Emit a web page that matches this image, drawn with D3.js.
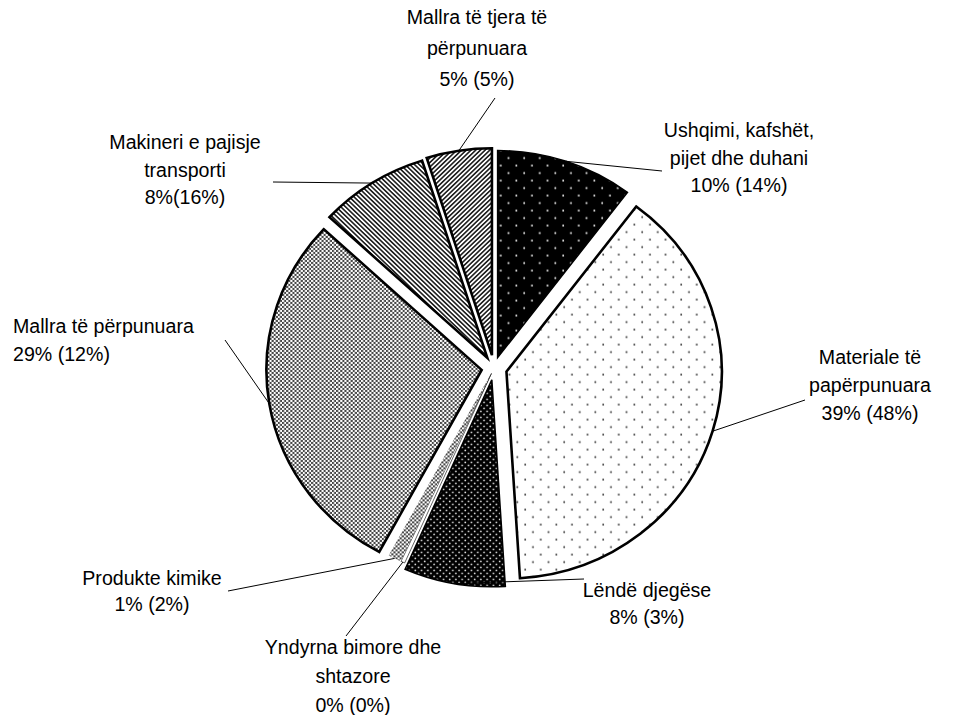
<!DOCTYPE html>
<html>
<head>
<meta charset="utf-8">
<script src="https://cdn.jsdelivr.net/npm/d3@7"></script>
<style>
  body { margin: 0; background: #fff; }
  svg { display: block; }
  text { font-family: "Liberation Sans", Arial, sans-serif; font-size: 19.6px; fill: #000; }
</style>
</head>
<body>
<svg id="chart" width="954" height="715"></svg>
<script>
// slice data, clockwise from 12 o'clock
var categories = ["Ushqimi, kafshët, pijet dhe duhani", "Materiale të papërpunuara", "Lëndë djegëse",
                  "Yndyrna bimore dhe shtazore", "Produkte kimike", "Mallra të përpunuara",
                  "Makineri e pajisje transporti", "Mallra të tjera të përpunuara"];
var shares = [10.3, 38.7, 7.6, 0.3, 1.0, 29.0, 8.2, 4.9];
var labelLines = [
  ["Ushqimi, kafshët,", "pijet dhe duhani", "10% (14%)"],
  ["Materiale të", "papërpunuara", "39% (48%)"],
  ["Lëndë djegëse", "8% (3%)"],
  ["Yndyrna bimore dhe", "shtazore", "0% (0%)"],
  ["Produkte kimike", "1% (2%)"],
  ["Mallra të përpunuara", "29% (12%)"],
  ["Makineri e pajisje", "transporti", "8%(16%)"],
  ["Mallra të tjera të", "përpunuara", "5% (5%)"]
];

// layout
var cx = 494, cy = 368, R = 207, sx = 1.04;
var explode = [11, 12.5, 12, 6, 6, 12, 12, 13];
var fills = ["url(#pUsh)", "url(#pMat)", "url(#pLen)", "#fff", "url(#pChk)", "url(#pChk)", "url(#pBack)", "url(#pFwd)"];
var strokeW = [1.5, 2.5, 1.5, 0.6, 0, 2.5, 2.5, 2.5];
// label block: x, y of first line, anchor, line height, leader end
var labelPos = [
  {x: 739, y: 137, a: "middle", lh: 27.5, lx: 662, ly: 171},
  {x: 870, y: 364, a: "middle", lh: 28, lx: 805, ly: 400},
  {x: 647, y: 597, a: "middle", lh: 27, lx: 584, ly: 579},
  {x: 353, y: 654, a: "middle", lh: 29, lx: 346, ly: 636},
  {x: 152, y: 585, a: "middle", lh: 26, lx: 228, ly: 591},
  {x: 13, y: 333, a: "start", lh: 28, lx: 225, ly: 340},
  {x: 185, y: 149, a: "middle", lh: 27.5, lx: 273, ly: 182},
  {x: 477, y: 24, a: "middle", lh: 31, lx: 495, ly: 98}
];

var svg = d3.select("#chart");
var defs = svg.append("defs");

function dotPattern(id, size, bg, fg, r, pts) {
  var p = defs.append("pattern").attr("id", id).attr("patternUnits", "userSpaceOnUse")
    .attr("width", size).attr("height", size);
  p.append("rect").attr("width", size).attr("height", size).attr("fill", bg);
  pts.forEach(function(q) {
    p.append("circle").attr("cx", q[0]).attr("cy", q[1]).attr("r", r).attr("fill", fg);
  });
}
dotPattern("pUsh", 15, "#000", "#fff", 0.9, [[3, 3], [10.5, 10.5]]);
dotPattern("pMat", 15, "#fff", "#333", 0.9, [[3, 3], [10.5, 10.5]]);
dotPattern("pLen", 6, "#000", "#fff", 0.85, [[1.5, 1.5], [4.5, 4.5]]);

var chk = defs.append("pattern").attr("id", "pChk").attr("patternUnits", "userSpaceOnUse")
  .attr("width", 4).attr("height", 4);
chk.append("rect").attr("width", 4).attr("height", 4).attr("fill", "#fff");
chk.append("rect").attr("width", 2).attr("height", 2).attr("fill", "#444");
chk.append("rect").attr("x", 2).attr("y", 2).attr("width", 2).attr("height", 2).attr("fill", "#444");

function stripes(id, angle) {
  var p = defs.append("pattern").attr("id", id).attr("patternUnits", "userSpaceOnUse")
    .attr("width", 3.2).attr("height", 3.2).attr("patternTransform", "rotate(" + angle + ")");
  p.append("rect").attr("width", 3.2).attr("height", 3.2).attr("fill", "#fff");
  p.append("rect").attr("width", 1.6).attr("height", 3.2).attr("fill", "#222");
}
stripes("pBack", -45);
stripes("pFwd", 45);

var pie = d3.pie().sort(null).value(function(d) { return d; });
var arcs = pie(shares);
var arc = d3.arc().innerRadius(0).outerRadius(R);

var g = svg.append("g").attr("transform", "translate(" + cx + "," + cy + ") scale(" + sx + ",1)");

function mid(d) { return (d.startAngle + d.endAngle) / 2; }

g.selectAll("path.slice").data(arcs).enter().append("path")
  .attr("class", "slice")
  .attr("transform", function(d, i) {
    var a = mid(d);
    return "translate(" + (explode[i] * Math.sin(a)) + "," + (-explode[i] * Math.cos(a)) + ")";
  })
  .attr("d", arc)
  .attr("fill", function(d, i) { return fills[i]; })
  .attr("stroke", "#000")
  .attr("stroke-width", function(d, i) { return strokeW[i]; })
  .attr("stroke-linejoin", "miter");

// leader lines
svg.selectAll("line.leader").data(arcs).enter().append("line")
  .attr("class", "leader")
  .attr("x1", function(d, i) { var a = mid(d); return cx + sx * (explode[i] + R) * Math.sin(a); })
  .attr("y1", function(d, i) { var a = mid(d); return cy - (explode[i] + R) * Math.cos(a); })
  .attr("x2", function(d, i) { return labelPos[i].lx; })
  .attr("y2", function(d, i) { return labelPos[i].ly; })
  .attr("stroke", "#000")
  .attr("stroke-width", 1);

// labels
labelLines.forEach(function(lines, i) {
  var p = labelPos[i];
  var t = svg.append("text").attr("text-anchor", p.a);
  lines.forEach(function(s, k) {
    t.append("tspan").attr("x", p.x).attr("y", p.y + k * p.lh).text(s);
  });
});
</script>
</body>
</html>
